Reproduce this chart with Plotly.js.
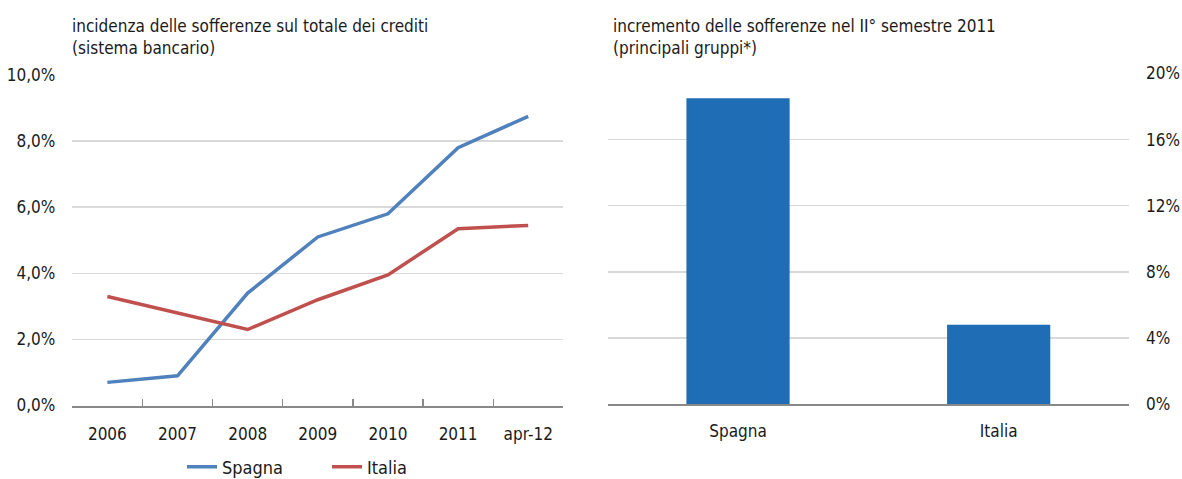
<!DOCTYPE html>
<html>
<head>
<meta charset="utf-8">
<script src="https://cdn.plot.ly/plotly-3.0.1.min.js"></script>
<style>
html,body{margin:0;padding:0;background:#fff;}
#chart{width:1182px;height:479px;}
</style>
</head>
<body>
<div id="chart"></div>
<script>
// Left panel: incidenza delle sofferenze sul totale dei crediti (%)
const periods = ["2006", "2007", "2008", "2009", "2010", "2011", "apr-12"];
const spagnaRatio = [0.7, 0.9, 3.4, 5.1, 5.8, 7.8, 8.75];
const italiaRatio = [3.3, 2.8, 2.3, 3.2, 3.95, 5.35, 5.45];

// Right panel: incremento delle sofferenze nel II semestre 2011 (%)
const countries = ["Spagna", "Italia"];
const increments = [18.5, 4.8];

const leftTitle = "incidenza delle sofferenze sul totale dei crediti<br>(sistema bancario)";
const rightTitle = "incremento delle sofferenze nel II° semestre 2011<br>(principali gruppi*)";

const FONT = "'Liberation Sans Narrow', 'DejaVu Sans Condensed', 'Arial Narrow', sans-serif";
const W = 1182, H = 479;
const px = v => v / W;
const py = v => (H - v) / H;

const traces = [
  {
    x: periods, y: spagnaRatio, type: "scatter", mode: "lines", name: "Spagna",
    line: {color: "#4F81BD", width: 3.5}, xaxis: "x", yaxis: "y"
  },
  {
    x: periods, y: italiaRatio, type: "scatter", mode: "lines", name: "Italia",
    line: {color: "#C0504D", width: 3.5}, xaxis: "x", yaxis: "y"
  },
  {
    x: countries, y: increments, type: "bar", name: "incremento",
    marker: {color: "#1F6DB5"}, showlegend: false, xaxis: "x2", yaxis: "y2"
  }
];

const tickFont = {family: FONT, size: 17, color: "#1a1a1a"};

const layout = {
  width: W, height: H,
  margin: {l: 0, r: 0, t: 0, b: 0, autoexpand: false},
  paper_bgcolor: "#fff", plot_bgcolor: "rgba(0,0,0,0)",
  separators: ",.",
  font: {family: FONT, size: 17, color: "#1a1a1a"},
  showlegend: true,
  bargap: 0.604,
  xaxis: {
    domain: [px(72.3), px(563.3)],
    type: "category",
    range: [-0.5, 6.5],
    showline: true, linecolor: "#898989", linewidth: 2,
    ticks: "inside", ticklen: 7, tickwidth: 1.3, tickcolor: "#898989",
    tickson: "boundaries",
    showgrid: false, zeroline: false,
    tickfont: tickFont, ticklabelstandoff: 12,
    anchor: "y", fixedrange: true
  },
  yaxis: {
    domain: [py(405.5), py(75)],
    range: [0, 10], dtick: 2, tick0: 0,
    tickformat: ".1f", ticksuffix: "%",
    showgrid: true, gridcolor: "#d9d9d9", gridwidth: 1.5,
    zeroline: false, showline: false, ticks: "",
    tickfont: tickFont, ticklabelstandoff: 16,
    anchor: "x", fixedrange: true
  },
  xaxis2: {
    domain: [px(607.7), px(1129)],
    type: "category",
    showline: true, linecolor: "#898989", linewidth: 2,
    ticks: "", showgrid: false, zeroline: false,
    tickfont: tickFont, ticklabelstandoff: 11,
    anchor: "y2", fixedrange: true
  },
  yaxis2: {
    domain: [py(404), py(73.5)],
    range: [0, 20], dtick: 4, tick0: 0,
    tickformat: "d", ticksuffix: "%",
    side: "right",
    showgrid: true, gridcolor: "#d9d9d9", gridwidth: 1.5,
    zeroline: false, showline: false, ticks: "",
    tickfont: tickFont, ticklabelstandoff: 16,
    anchor: "x2", fixedrange: true
  },
  legend: {
    orientation: "h",
    x: px(182), xanchor: "left",
    y: py(467), yanchor: "middle",
    font: {family: FONT, size: 18, color: "#1a1a1a"},
    entrywidth: 100, entrywidthmode: "pixels",
    bgcolor: "rgba(0,0,0,0)", borderwidth: 0
  },
  annotations: [
    {
      text: leftTitle, xref: "paper", yref: "paper",
      x: px(70), y: py(14), xanchor: "left", yanchor: "top",
      align: "left", showarrow: false,
      font: {family: FONT, size: 17, color: "#1a1a1a"}
    },
    {
      text: rightTitle, xref: "paper", yref: "paper",
      x: px(611), y: py(14), xanchor: "left", yanchor: "top",
      align: "left", showarrow: false,
      font: {family: FONT, size: 17, color: "#1a1a1a"}
    }
  ]
};

Plotly.newPlot("chart", traces, layout, {staticPlot: true, displayModeBar: false});
</script>
</body>
</html>
